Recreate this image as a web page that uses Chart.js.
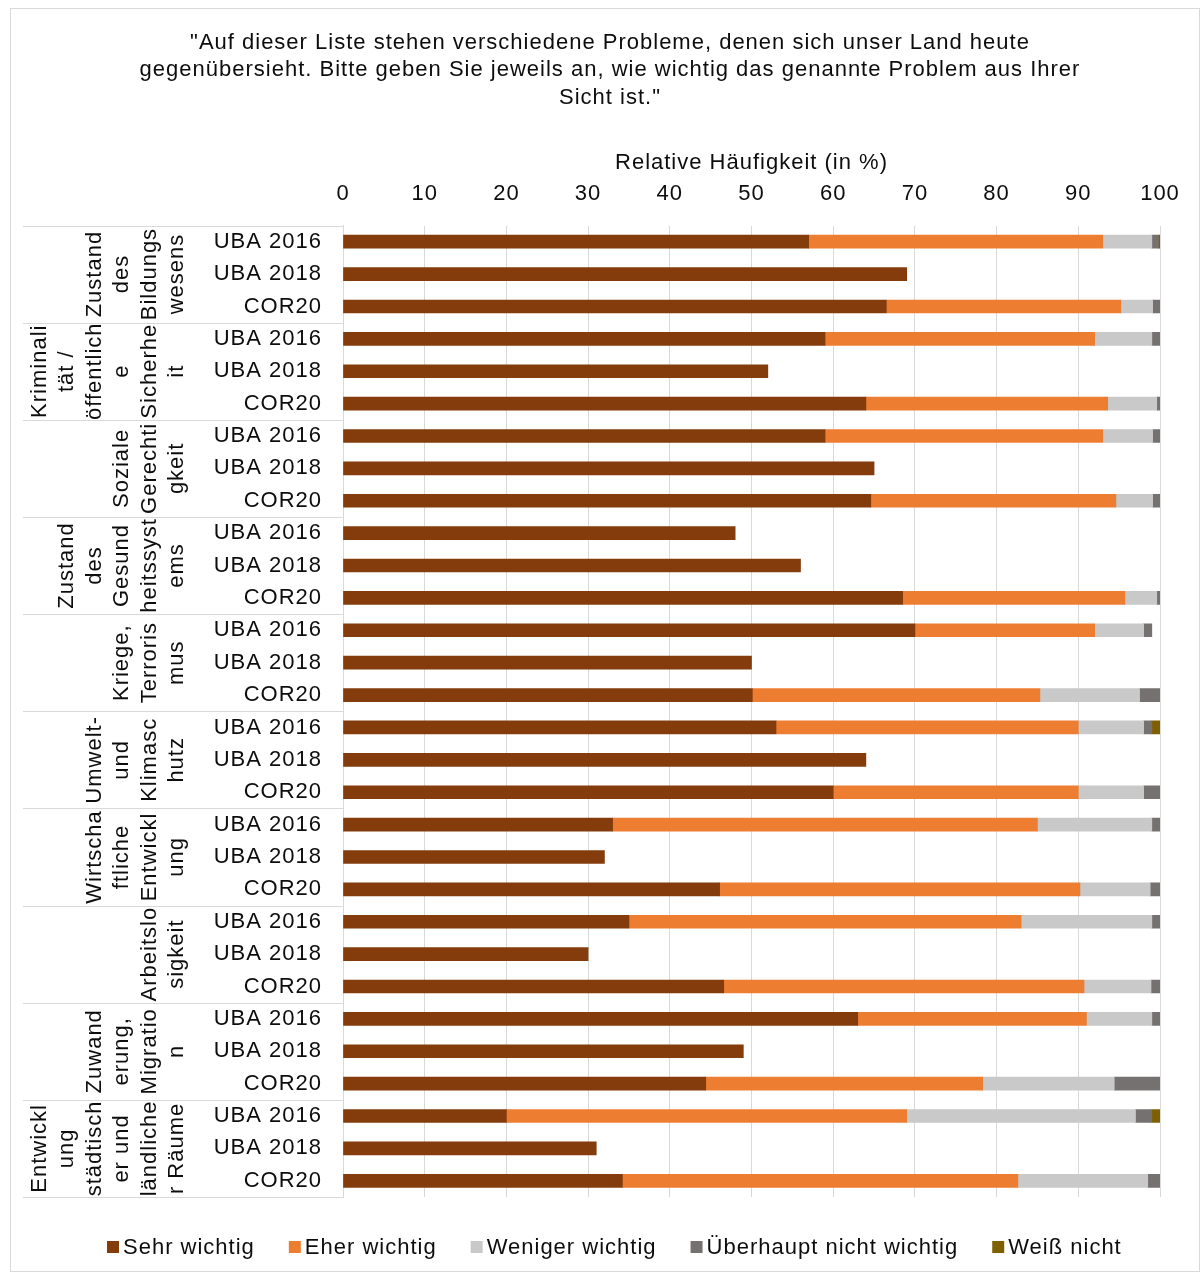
<!DOCTYPE html>
<html lang="de">
<head>
<meta charset="utf-8">
<title>Probleme in Deutschland</title>
<script src="https://cdn.jsdelivr.net/npm/chart.js@4.4.1/dist/chart.umd.min.js"></script>
<style>
  html, body { margin: 0; padding: 0; background: #fff; }
  #wrap { width: 1204px; height: 1277px; position: relative; }
</style>
</head>
<body>
<div id="wrap"><canvas id="chart" width="1204" height="1277"></canvas></div>
<script>
// Themen (je drei Erhebungen), mehrzeilig umbrochen wie in der Tabelle
var groups = [
  ['Zustand', 'des', 'Bildungs', 'wesens'],
  ['Kriminali', 'tät /', 'öffentlich', 'e', 'Sicherhe', 'it'],
  ['Soziale', 'Gerechti', 'gkeit'],
  ['Zustand', 'des', 'Gesund', 'heitssyst', 'ems'],
  ['Kriege,', 'Terroris', 'mus'],
  ['Umwelt-', 'und', 'Klimasc', 'hutz'],
  ['Wirtscha', 'ftliche', 'Entwickl', 'ung'],
  ['Arbeitslo', 'sigkeit'],
  ['Zuwand', 'erung,', 'Migratio', 'n'],
  ['Entwickl', 'ung', 'städtisch', 'er und', 'ländliche', 'r Räume']
];
var surveys = ['UBA 2016', 'UBA 2018', 'COR20'];

// Anteile in %, eine Zeile pro Thema x Erhebung
var sehrWichtig = [57, 69, 66.5, 59, 52, 64, 59, 65, 64.6, 48, 56, 68.5, 70, 50, 50.1,
  53, 64, 60, 33, 32, 46.1, 35, 30, 46.6, 63, 49, 44.4, 20, 31, 34.2];
var eherWichtig = [36, null, 28.7, 33, null, 29.6, 34, null, 30, null, null, 27.2, 22, null, 35.2,
  37, null, 30, 52, null, 44.1, 48, null, 44.1, 28, null, 33.9, 49, null, 48.4];
var wenigerWichtig = [6, null, 3.9, 7, null, 6, 6.1, null, 4.5, null, null, 3.9, 6, null, 12.2,
  8, null, 8, 14, null, 8.6, 16, null, 8.2, 8, null, 16.1, 28, null, 15.9];
var nichtWichtig = [0.8, null, 0.9, 1, null, 0.5, 1, null, 0.9, null, null, 0.4, 1, null, 2.5,
  1, null, 2, 1, null, 1.2, 1, null, 1.1, 1, null, 5.6, 2, null, 1.5];
var weissNicht = [0.3, null, null, null, null, null, null, null, null, null, null, null, null, null, null,
  1, null, null, null, null, null, null, null, null, null, null, null, 1, null, null];

var xTicks = [0, 10, 20, 30, 40, 50, 60, 70, 80, 90, 100];

var FONT = "'Liberation Sans', Arial, sans-serif";
var INK = '#0d0d0d';
var RULE = '#d9d9d9';

var labels = [];
groups.forEach(function () {
  surveys.forEach(function (s) { labels.push(s); });
});

// etwas breiter laufende Schrift, wie im Office-Export
function spaceLetters(chart) {
  if ('letterSpacing' in chart.ctx) chart.ctx.letterSpacing = '1px';
}

var spacingPlugin = {
  id: 'spacing',
  beforeInit: spaceLetters,
  beforeUpdate: spaceLetters,
  beforeLayout: spaceLetters,
  beforeDraw: spaceLetters
};

// Rahmen um die ganze Grafik
var framePlugin = {
  id: 'frame',
  beforeDraw: function (chart) {
    var ctx = chart.ctx;
    ctx.save();
    ctx.strokeStyle = RULE;
    ctx.lineWidth = 1;
    ctx.strokeRect(10.5, 8.5, 1189, 1263);
    ctx.restore();
  }
};

// Themenbeschriftung links: Trennlinien und gedrehter Text
var groupPlugin = {
  id: 'groupLabels',
  afterDraw: function (chart) {
    var ctx = chart.ctx;
    var y = chart.scales.y;
    var n = groups.length;
    ctx.save();
    ctx.strokeStyle = RULE;
    ctx.lineWidth = 1;
    for (var g = 0; g <= n; g++) {
      var yb;
      if (g === 0) yb = y.top;
      else if (g === n) yb = y.bottom;
      else yb = (y.getPixelForValue(3 * g - 1) + y.getPixelForValue(3 * g)) / 2;
      yb = Math.round(yb) + 0.5;
      ctx.beginPath();
      ctx.moveTo(23, yb);
      ctx.lineTo(y.right, yb);
      ctx.stroke();
    }
    ctx.fillStyle = INK;
    ctx.font = '22px ' + FONT;
    ctx.textAlign = 'center';
    ctx.textBaseline = 'middle';
    var lastX = 177, pitch = 27.4;
    groups.forEach(function (lines, g) {
      var yc = (y.getPixelForValue(3 * g) + y.getPixelForValue(3 * g + 2)) / 2;
      lines.forEach(function (txt, i) {
        var x = lastX - (lines.length - 1 - i) * pitch;
        ctx.save();
        ctx.translate(x, yc);
        ctx.rotate(-Math.PI / 2);
        ctx.fillText(txt, 0, 0);
        ctx.restore();
      });
    });
    ctx.restore();
  }
};

// Legende unten: kleines Quadrat, knapp daneben der Text
var legendPlugin = {
  id: 'bottomLegend',
  afterDraw: function (chart) {
    var ctx = chart.ctx;
    var box = 12, gapText = 4, gapItem = 34, cy = 1247, cx = 614;
    ctx.save();
    ctx.font = '22px ' + FONT;
    ctx.textAlign = 'left';
    ctx.textBaseline = 'middle';
    var items = chart.data.datasets.map(function (ds) {
      return { label: ds.label, color: ds.backgroundColor, w: ctx.measureText(ds.label).width };
    });
    var total = 0;
    items.forEach(function (it, i) {
      total += box + gapText + it.w + (i < items.length - 1 ? gapItem : 0);
    });
    var x = Math.round(cx - total / 2);
    items.forEach(function (it) {
      ctx.fillStyle = it.color;
      ctx.fillRect(x, cy - box / 2, box, box);
      ctx.fillStyle = INK;
      ctx.fillText(it.label, x + box + gapText, cy + 1);
      x += box + gapText + it.w + gapItem;
    });
    ctx.restore();
  }
};

function series(label, data, color) {
  return {
    label: label,
    data: data,
    backgroundColor: color,
    borderWidth: 0,
    barThickness: 13
  };
}

new Chart(document.getElementById('chart'), {
  type: 'bar',
  data: {
    labels: labels,
    datasets: [
      series('Sehr wichtig', sehrWichtig, '#843c0c'),
      series('Eher wichtig', eherWichtig, '#ed7d31'),
      series('Weniger wichtig', wenigerWichtig, '#c9c9c9'),
      series('Überhaupt nicht wichtig', nichtWichtig, '#767171'),
      series('Weiß nicht', weissNicht, '#7f6000')
    ]
  },
  options: {
    indexAxis: 'y',
    responsive: false,
    animation: false,
    layout: { padding: { left: 60, right: 44, top: 0, bottom: 80 } },
    scales: {
      x: {
        position: 'top',
        stacked: true,
        min: 0,
        max: 100,
        afterBuildTicks: function (scale) {
          scale.ticks = xTicks.map(function (v) { return { value: v }; });
        },
        afterFit: function (scale) { scale.height = 104; },
        grid: { color: RULE, drawTicks: false },
        border: { display: false },
        ticks: { color: INK, font: { family: FONT, size: 22 }, padding: 18 },
        title: {
          display: true,
          text: 'Relative Häufigkeit (in %)',
          color: INK,
          font: { family: FONT, size: 22 },
          padding: { top: 28, bottom: 0 }
        }
      },
      y: {
        stacked: true,
        afterFit: function (scale) { scale.width = 283; },
        grid: { display: false, drawTicks: false },
        border: { display: true, color: RULE },
        ticks: { color: INK, font: { family: FONT, size: 22 }, padding: 21, autoSkip: false }
      }
    },
    plugins: {
      title: {
        display: true,
        text: [
          '"Auf dieser Liste stehen verschiedene Probleme, denen sich unser Land heute',
          'gegenübersieht. Bitte geben Sie jeweils an, wie wichtig das genannte Problem aus Ihrer',
          'Sicht ist."'
        ],
        color: INK,
        font: { family: FONT, size: 22, weight: 'normal', lineHeight: 1.25 },
        padding: { top: 29, bottom: 10 }
      },
      legend: { display: false },
      tooltip: { enabled: false }
    }
  },
  plugins: [spacingPlugin, framePlugin, groupPlugin, legendPlugin]
});
</script>
</body>
</html>
